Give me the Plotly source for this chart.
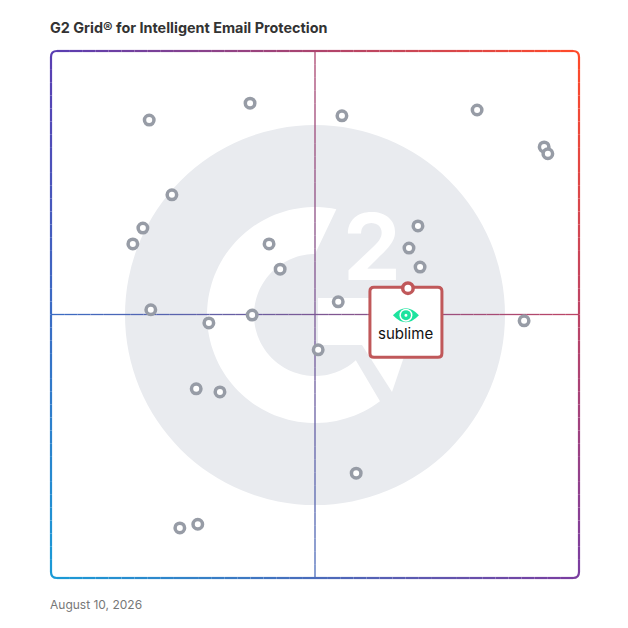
import numpy as np
import plotly.graph_objects as go

# grid positions (0-100 on both axes)
satisfaction = [18.6, 37.7, 55.1, 80.7, 93.4, 94.1, 22.9, 17.4, 15.5, 41.3, 43.4, 69.5, 67.8,
                69.9, 54.4, 18.9, 29.9, 38.1, 50.6, 89.6, 27.5, 32.0, 57.8, 24.4, 27.8]
market_presence = [86.9, 90.1, 87.7, 88.8, 81.8, 80.5, 72.7, 66.4, 63.4, 63.4, 58.6, 66.8, 62.6,
                   59.0, 52.4, 50.9, 48.4, 49.9, 43.3, 48.8, 35.9, 35.3, 19.9, 9.5, 10.2]

highlight_name = "sublime"
highlight_satisfaction = [67.6]
highlight_market_presence = [55.0]

title_text = "G2 Grid® for Intelligent Email Protection"
date_text = "August 10, 2026"

# page has an 8px body margin, so the figure is 620 wide and left/top margins are 8px smaller
W, H = 620, 620
L, R, T, B = 43, 49, 43, 50
PX = 100 / (W - L - R)   # data units per pixel
PY = 100 / (H - T - B)

# corner colours of the gradient frame
TL, TR, BL, BR = (90, 62, 178), (255, 74, 42), (27, 154, 214), (122, 62, 160)


def grad(u, v):
    top = [a + (b - a) * u for a, b in zip(TL, TR)]
    bot = [a + (b - a) * u for a, b in zip(BL, BR)]
    c = [t + (b - t) * v for t, b in zip(top, bot)]
    return "rgb(%d,%d,%d)" % tuple(int(round(x)) for x in c)


shapes = []

# background G2 mark
cx, cy = 50.0, 49.9


def lp(dx, dy):
    return "%.3f,%.3f" % (cx + dx * PX, cy - dy * PY)


shapes.append(dict(type="circle", xref="x", yref="y", x0=cx - 190 * PX, x1=cx + 190 * PX,
                   y0=cy - 190 * PY, y1=cy + 190 * PY, fillcolor="#e9ebef", line_width=0, layer="below"))

a_out = np.radians(np.linspace(78.6, 307, 90))
a_in = np.radians(np.linspace(312, 90, 90))
pts = [lp(108 * np.cos(a), -108 * np.sin(a)) for a in a_out]
pts += [lp(61 * np.cos(a), -61 * np.sin(a)) for a in a_in]
shapes.append(dict(type="path", xref="x", yref="y", path="M" + " L".join(pts) + " Z",
                   fillcolor="white", line_width=0, layer="below"))
chev = [lp(3, -17), lp(109, -17), lp(77, 77), lp(47, 30), lp(3, 30)]
shapes.append(dict(type="path", xref="x", yref="y", path="M" + " L".join(chev) + " Z",
                   fillcolor="white", line_width=0, layer="below"))

# crosshair, on the data layer so it sits over the mark
n = 40
for i in range(n):
    v0, v1 = i / n, (i + 1) / n
    shapes.append(dict(type="line", xref="x", yref="y", x0=50, x1=50, y0=100 - 100 * v0,
                       y1=100 - 100 * v1, line=dict(color=grad(0.5, (v0 + v1) / 2), width=1.3),
                       layer="below"))
    shapes.append(dict(type="line", xref="x", yref="y", y0=50, y1=50, x0=100 * v0, x1=100 * v1,
                       line=dict(color=grad((v0 + v1) / 2, 0.5), width=1.3), layer="below"))

# frame with rounded corners (paper refs so the stroke is not clipped)
rx, ry = 6 * PX / 100, 6 * PY / 100
for i in range(n):
    f0, f1 = i / n, (i + 1) / n
    xa, xb = rx + (1 - 2 * rx) * f0, rx + (1 - 2 * rx) * f1
    ya, yb = 1 - ry - (1 - 2 * ry) * f0, 1 - ry - (1 - 2 * ry) * f1
    fm = (f0 + f1) / 2
    seg = dict(type="line", xref="paper", yref="paper", layer="below")
    shapes.append(dict(seg, x0=xa, x1=xb, y0=1, y1=1, line=dict(color=grad(fm, 0), width=2.2)))
    shapes.append(dict(seg, x0=xa, x1=xb, y0=0, y1=0, line=dict(color=grad(fm, 1), width=2.2)))
    shapes.append(dict(seg, x0=0, x1=0, y0=ya, y1=yb, line=dict(color=grad(0, fm), width=2.2)))
    shapes.append(dict(seg, x0=1, x1=1, y0=ya, y1=yb, line=dict(color=grad(1, fm), width=2.2)))
corners = [
    ("M0,%f Q0,1 %f,1" % (1 - ry, rx), grad(0, 0)),
    ("M%f,1 Q1,1 1,%f" % (1 - rx, 1 - ry), grad(1, 0)),
    ("M0,%f Q0,0 %f,0" % (ry, rx), grad(0, 1)),
    ("M%f,0 Q1,0 1,%f" % (1 - rx, ry), grad(1, 1)),
]
for p, c in corners:
    shapes.append(dict(type="path", xref="paper", yref="paper", path=p,
                       line=dict(color=c, width=2.2), layer="below"))

# highlight box, anchored to the highlighted product (pixel offsets, y up)
hx, hy = highlight_satisfaction[0], highlight_market_presence[0]
anchor = dict(xref="x", yref="y", xsizemode="pixel", ysizemode="pixel", xanchor=hx, yanchor=hy,
              layer="below")
shapes.append(dict(anchor, type="path",
                   path="M-34,1 L30,1 Q34,1 34,-3 L34,-65 Q34,-69 30,-69 L-34,-69 "
                        "Q-38,-69 -38,-65 L-38,-3 Q-38,1 -34,1 Z",
                   fillcolor="white", line=dict(color="#c0585a", width=3)))
green = "#1de39e"
shapes.append(dict(anchor, type="path", path="M-15,-27 Q-2,-13 11,-27 Q-2,-41 -15,-27 Z",
                   fillcolor=green, line_width=0))
for r, col in [(6.5, "white"), (5, green), (1.5, "white")]:
    shapes.append(dict(anchor, type="circle", x0=-2 - r, x1=-2 + r, y0=-27 - r, y1=-27 + r,
                       fillcolor=col, line_width=0))

fig = go.Figure()
fig.add_trace(go.Scatter(
    x=satisfaction, y=market_presence, mode="markers",
    marker=dict(size=9.5, color="white", line=dict(color="#979ca6", width=3.5)),
    hoverinfo="skip",
))
fig.add_trace(go.Scatter(
    x=highlight_satisfaction, y=highlight_market_presence, mode="markers", name=highlight_name,
    marker=dict(size=10.5, color="white", line=dict(color="#c0585a", width=3.5)),
    hoverinfo="skip",
))

annotations = [
    dict(x=cx + 57 * PX, y=cy + 69 * PY, xref="x", yref="y", text="<b>2</b>", showarrow=False,
         font=dict(family="Inter", size=92, color="white"), xanchor="center", yanchor="middle"),
    dict(x=hx, y=hy, xref="x", yref="y", text=highlight_name, showarrow=False, xshift=-2,
         yshift=-45, font=dict(family="Inter", size=15, color="#111111"),
         xanchor="center", yanchor="middle"),
    dict(x=-3 / (W - L - R), y=1 + 23 / (H - T - B), xref="paper", yref="paper",
         text="<b>" + title_text + "</b>", showarrow=False, xanchor="left", yanchor="middle",
         font=dict(family="Inter", size=14.4, color="#333333")),
    dict(x=-3 / (W - L - R), y=-26 / (H - T - B), xref="paper", yref="paper", text=date_text,
         showarrow=False, xanchor="left", yanchor="middle",
         font=dict(family="Inter", size=12, color="#777777")),
]

fig.update_layout(
    width=W, height=H, margin=dict(l=L, r=R, t=T, b=B),
    paper_bgcolor="white", plot_bgcolor="white",
    showlegend=False, shapes=shapes, annotations=annotations,
    xaxis=dict(range=[0, 100], visible=False, fixedrange=True),
    yaxis=dict(range=[0, 100], visible=False, fixedrange=True),
)
fig.write_html("out.html")
